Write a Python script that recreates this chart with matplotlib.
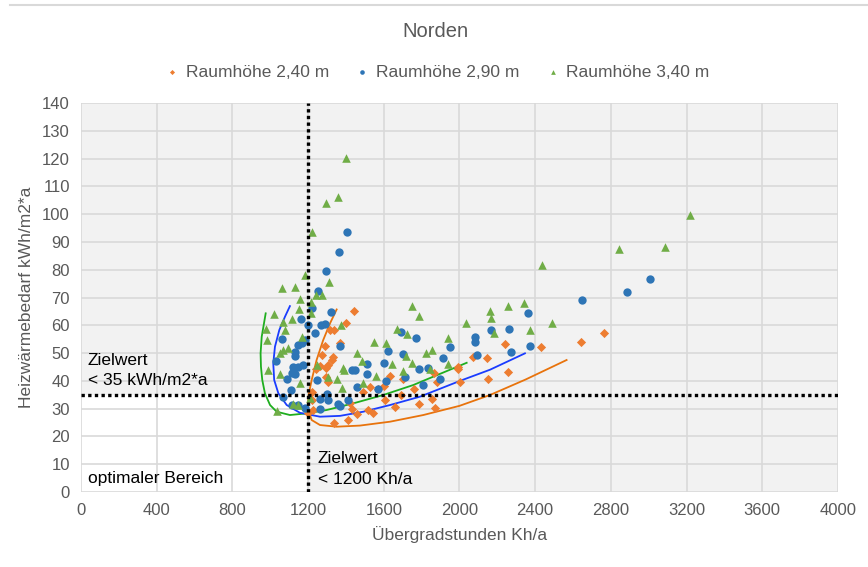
import numpy as np
import matplotlib
matplotlib.use('Agg')
import matplotlib.pyplot as plt
from matplotlib.patches import Rectangle
from matplotlib.lines import Line2D

plt.rcParams['font.family'] = ['Liberation Sans', 'DejaVu Sans']

# Raumhöhe 2,40 m
x_240 = [1441, 1400, 1316, 1339, 1369, 1289, 1333, 1325, 1307, 1272, 1242, 1295, 1263, 1295,
         1307, 1219, 1219, 1201, 1227, 1337, 1412, 1460, 1430, 1421, 1492, 1527, 1568, 1602,
         1633, 1518, 1544, 1606, 1659, 1690, 1760, 1786, 1856, 1871, 1879, 1703, 1865, 1994,
         1994, 2003, 2073, 2144, 2152, 2256, 2242, 2429, 2642, 2765]
y_240 = [65.3, 60.7, 58.3, 58.3, 53.5, 52.7, 48.7, 47.5, 45.7, 49.3, 44.2, 44.5, 45.3, 41.5,
         39.7, 36.1, 33.1, 28.3, 29.5, 24.7, 25.9, 27.9, 30.0, 31.9, 36.1, 37.7, 37.0, 38.1,
         41.7, 29.5, 28.5, 33.1, 30.7, 34.9, 37.0, 31.7, 33.5, 30.1, 39.7, 40.7, 42.8, 45.1,
         44.2, 39.7, 48.7, 48.1, 40.8, 43.2, 53.1, 52.1, 54.1, 57.3]

# Raumhöhe 2,90 m
x_290 = [1405, 1363, 1295, 1254, 1219, 1164, 1321, 1197, 1236, 1268, 1289, 1060, 1184, 1166,
         1148, 1131, 1131, 1369, 1122, 1148, 1175, 1113, 1131, 1087, 1029, 1245, 1430, 1108,
         1298, 1263, 1307, 1360, 1369, 1263, 1148, 1113, 1412, 1457, 1510, 1510, 1448, 1601,
         1620, 1703, 1691, 1571, 1612, 1712, 1787, 1835, 1809, 1911, 1950, 1772, 2082, 2082,
         2091, 1897, 2165, 2263, 2360, 2372, 2271, 2649, 2883, 3008, 1184, 1069]
y_290 = [93.6, 86.5, 79.5, 72.5, 66.4, 62.4, 64.9, 60.2, 57.4, 60.2, 60.5, 54.9, 54.7, 53.7,
         52.9, 50.5, 48.9, 52.7, 44.9, 45.1, 45.6, 42.7, 42.4, 40.5, 47.1, 40.4, 43.9, 36.7,
         35.3, 33.6, 33.1, 31.7, 31.0, 29.9, 31.3, 31.3, 33.1, 37.9, 42.6, 46.2, 43.9, 46.5,
         50.7, 49.8, 57.7, 37.1, 39.8, 41.5, 44.2, 44.7, 38.5, 48.4, 52.2, 55.4, 55.9, 54.0,
         49.3, 40.6, 58.3, 58.7, 64.4, 52.5, 50.3, 69.1, 71.9, 76.5, 30.1, 34.3]

# Raumhöhe 3,40 m
x_340 = [1400, 1356, 1296, 1219, 1184, 1309, 1060, 1131, 1157, 1217, 1242, 1273, 1150, 1022,
         1115, 1069, 1078, 977, 1169, 1372, 985, 1095, 1069, 1051, 1214, 990, 1051, 1157,
         1245, 1351, 1386, 1457, 1122, 1148, 1034, 1377, 1307, 1392, 1550, 1612, 1703, 1668,
         1721, 1747, 1786, 1821, 1853, 1557, 1487, 1210, 1641, 1720, 1747, 1844, 1941, 1488,
         1937, 2034, 2159, 2167, 2256, 2339, 2185, 2372, 2490, 2434, 2843, 3084, 3216]
y_340 = [120.3, 106.0, 104.0, 93.5, 78.0, 75.7, 73.5, 73.9, 69.4, 68.3, 71.0, 71.0, 65.7, 64.0,
         62.2, 61.3, 58.3, 58.5, 55.9, 60.2, 54.7, 52.0, 51.1, 50.0, 64.3, 43.8, 42.3, 39.1,
         45.7, 40.8, 44.5, 49.9, 31.6, 31.3, 29.0, 37.5, 41.5, 43.9, 54.0, 53.5, 43.5, 58.6,
         56.9, 66.8, 63.3, 50.2, 51.1, 41.8, 47.1, 33.7, 46.1, 48.9, 46.5, 44.2, 46.1, 39.1,
         55.3, 61.0, 65.1, 62.7, 67.0, 68.1, 57.3, 58.2, 60.9, 81.7, 87.3, 88.3, 99.6]

# trend curves
trend_340_x = [976, 967, 955, 949, 951, 958, 972, 999, 1034, 1104, 1193, 1298, 1439, 1597, 1756, 1826, 2038]
trend_340_y = [64.3, 60.7, 55.9, 49.9, 45.1, 40.3, 35.5, 31.3, 28.9, 27.7, 28.3, 29.5, 31.9, 34.9, 38.5, 40.5, 46.5]
trend_290_x = [1104, 1078, 1048, 1025, 1016, 1021, 1043, 1087, 1157, 1263, 1369, 1492, 1633, 1791, 2003, 2161, 2346]
trend_290_y = [66.9, 63.1, 58.3, 52.3, 46.3, 40.3, 35.5, 31.3, 28.5, 27.1, 27.4, 28.9, 31.3, 34.3, 40.0, 44.0, 49.9]
trend_240_x = [1351, 1316, 1280, 1245, 1219, 1201, 1201, 1219, 1263, 1351, 1474, 1633, 1809, 2000, 2161, 2350, 2566]
trend_240_y = [65.7, 60.7, 54.7, 47.5, 40.3, 34.3, 29.5, 25.9, 24.1, 23.5, 23.9, 25.3, 27.7, 31.0, 34.9, 40.5, 47.5]

labels = ['Raumhöhe 2,40 m', 'Raumhöhe 2,90 m', 'Raumhöhe 3,40 m']
target_x = 1200
target_y = 35

grey = '#595959'
fig = plt.figure(figsize=(8.68, 5.67), dpi=100)
ax = fig.add_axes([0.0933, 0.1323, 0.8721, 0.686])
ax.set_facecolor('#f2f2f2')
ax.add_patch(Rectangle((0, 0), target_x, target_y, facecolor='white', edgecolor='none', zorder=0.2))

ax.set_xlim(0, 4000)
ax.set_ylim(0, 140)
ax.set_xticks(np.arange(0, 4001, 400))
ax.set_yticks(np.arange(0, 141, 10))
ax.grid(True, color='#d9d9d9', lw=1.2)
ax.set_axisbelow(True)
for s in ax.spines.values():
    s.set_visible(False)
ax.tick_params(length=0, colors=grey, labelsize=12, pad=8)

ax.plot(trend_340_x, trend_340_y, color='#1fae1f', lw=1.3, zorder=3)
ax.plot(trend_290_x, trend_290_y, color='#1a3cff', lw=1.3, zorder=3)
ax.plot(trend_240_x, trend_240_y, color='#e8730c', lw=1.3, zorder=3)

ax.scatter(x_240, y_240, marker='D', s=22, color='#ED7D31', label=labels[0], zorder=4, linewidths=0)
ax.scatter(x_290, y_290, marker='o', s=36, color='#2E75B6', label=labels[1], zorder=4, linewidths=0)
ax.scatter(x_340, y_340, marker='^', s=38, color='#70AD47', label=labels[2], zorder=4, linewidths=0)

ax.axvline(target_x, color='black', lw=2.4, ls=(0, (1, 1)), zorder=5)
ax.axhline(target_y, color='black', lw=2.4, ls=(0, (1, 1)), zorder=5)

ax.text(37, 47.5, 'Zielwert', fontsize=12.5, va='center')
ax.text(37, 40, '< 35 kWh/m2*a', fontsize=12.5, va='center')
ax.text(1252, 12.2, 'Zielwert', fontsize=12.5, va='center')
ax.text(1252, 4.5, '< 1200 Kh/a', fontsize=12.5, va='center')
ax.text(37, 5, 'optimaler Bereich', fontsize=12.5, va='center')

ax.set_xlabel('Übergradstunden Kh/a', fontsize=12.5, color=grey, labelpad=6)
ax.set_ylabel('Heizwärmebedarf kWh/m2*a', fontsize=12.5, color=grey, labelpad=6)

fig.text(0.502, 0.945, 'Norden', fontsize=14.5, color=grey, ha='center', va='center')
fig.legend(loc='center', bbox_to_anchor=(0.502, 0.873), ncol=3, frameon=False,
           fontsize=12.5, markerscale=0.55, handlelength=1.2, handletextpad=0.2,
           columnspacing=1.3, labelcolor=grey)

fig.add_artist(Line2D([0.012, 1], [0.991, 0.991], color='#d9d9d9', lw=1.5))

fig.savefig('out.png', dpi=100)
